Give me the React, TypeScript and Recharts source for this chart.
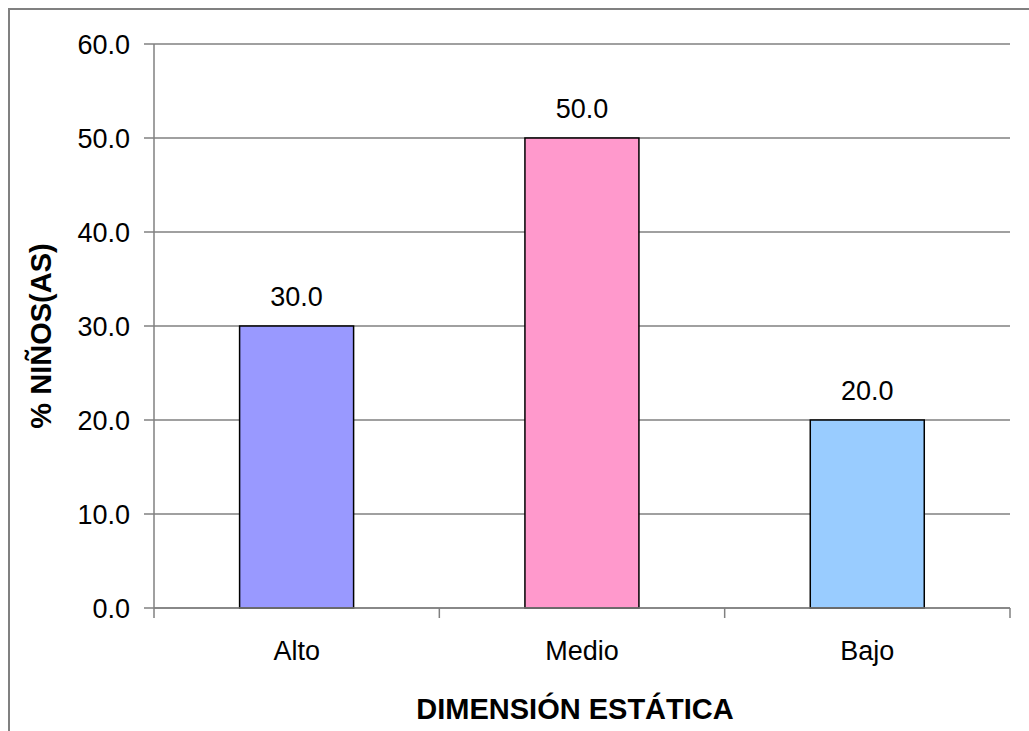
import { BarChart, Bar, XAxis, YAxis, CartesianGrid, Cell, LabelList, Label } from "recharts"

const categories = ["Alto", "Medio", "Bajo"]
const percentages = [30.0, 50.0, 20.0]
const barColors = ["#9999ff", "#ff99cc", "#99ccff"]
const yTicks = [0, 10, 20, 30, 40, 50, 60]
const edgeTicks = [0, 1, 2, 3]
const xTitle = "DIMENSIÓN ESTÁTICA"
const yTitle = "% NIÑOS(AS)"

const data = categories.map((name, i) => ({ name, value: percentages[i], slot: i + 0.5 }))

const font = "'Liberation Sans', Arial, sans-serif"
const axisGray = "#808080"

const NoTick = () => <g />

const YTitle = (props: any) => {
  const vb = props.viewBox || { x: 0, y: 0, height: 0 }
  const cx = vb.x + 51
  const cy = vb.y + vb.height / 2 + 10
  return (
    <text
      x={cx}
      y={cy}
      transform={`rotate(-90, ${cx}, ${cy})`}
      textAnchor="middle"
      fontSize={29}
      fontWeight="bold"
      fill="#000"
    >
      {yTitle}
    </text>
  )
}

export default function App() {
  return (
    <div
      style={{
        position: "absolute",
        left: 0,
        top: 0,
        width: 1029,
        height: 731,
        overflow: "hidden",
        background: "#fff",
        fontFamily: font,
      }}
    >
      <div
        style={{
          position: "absolute",
          left: 8,
          top: 8,
          width: 1100,
          height: 800,
          border: `2px solid ${axisGray}`,
        }}
      />
      <div style={{ position: "absolute", left: 0, top: 0 }}>
        <BarChart
          width={1029}
          height={731}
          data={data}
          margin={{ top: 44, right: 19, bottom: 0, left: 0 }}
          barCategoryGap="30%"
          style={{ fontFamily: font }}
        >
          <CartesianGrid vertical={false} stroke={axisGray} strokeWidth={1.5} />
          {/* default id axis sits next to the plot: it draws the baseline and the ticks between categories */}
          <XAxis
            type="number"
            dataKey="slot"
            domain={[0, 3]}
            allowDataOverflow
            ticks={edgeTicks}
            interval={0}
            height={10}
            tickSize={10}
            tick={NoTick}
            axisLine={{ stroke: axisGray, strokeWidth: 1.5 }}
            tickLine={{ stroke: axisGray, strokeWidth: 1.5 }}
          />
          <XAxis
            xAxisId="cat"
            dataKey="name"
            height={113}
            axisLine={false}
            tickLine={false}
            tickSize={0}
            tickMargin={23}
            tick={{ fill: "#000", fontSize: 27 }}
          >
            <Label
              value={xTitle}
              position="insideBottom"
              offset={12}
              dx={-7}
              fill="#000"
              fontSize={29}
              fontWeight="bold"
            />
          </XAxis>
          <YAxis
            width={154}
            domain={[0, 60]}
            ticks={yTicks}
            interval={0}
            tickFormatter={(v: number) => v.toFixed(1)}
            tickSize={10}
            tickMargin={14}
            tick={{ fill: "#000", fontSize: 27 }}
            axisLine={{ stroke: axisGray, strokeWidth: 1.5 }}
            tickLine={{ stroke: axisGray, strokeWidth: 1.5 }}
          >
            <Label content={YTitle} position="insideLeft" />
          </YAxis>
          <Bar xAxisId="cat" dataKey="value" stroke="#000" strokeWidth={1.5} isAnimationActive={false}>
            {data.map((entry, i) => (
              <Cell key={entry.name} fill={barColors[i]} />
            ))}
            <LabelList
              dataKey="value"
              position="top"
              offset={20}
              formatter={(v: any) => Number(v).toFixed(1)}
              fill="#000"
              fontSize={27}
            />
          </Bar>
        </BarChart>
      </div>
    </div>
  )
}
